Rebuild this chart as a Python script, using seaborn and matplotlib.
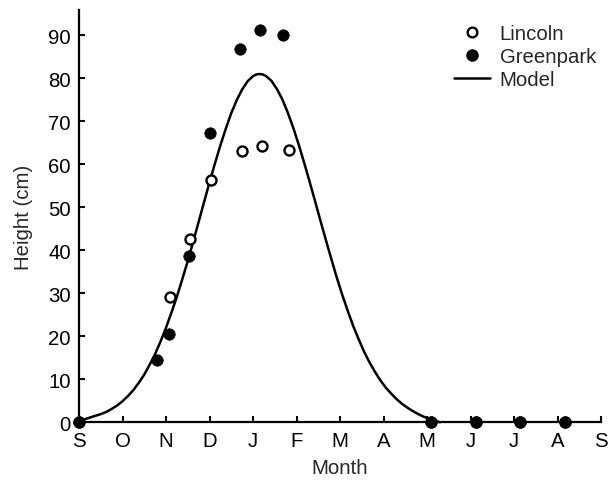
import numpy as np
import pandas as pd
import matplotlib
matplotlib.use("Agg")
import matplotlib.pyplot as plt
from matplotlib.lines import Line2D
import seaborn as sns

sns.set_style("ticks")
plt.rcParams['font.family'] = ['Liberation Sans', 'DejaVu Sans']

# Month tick labels (Sep -> Sep), x measured in months since 1 Sep
month_labels = ["S", "O", "N", "D", "J", "F", "M", "A", "M", "J", "J", "A", "S"]

lincoln_x = [0.0, 2.09, 2.56, 3.03, 3.74, 4.21, 4.82, 8.10, 9.12, 10.13, 11.17]
lincoln_y = [0.0, 29.1, 42.6, 56.3, 63.2, 64.3, 63.4, 0.0, 0.0, 0.0, 0.0]

greenpark_x = [0.0, 1.80, 2.06, 2.53, 3.01, 3.71, 4.17, 4.68, 8.10, 9.12, 10.13, 11.17]
greenpark_y = [0.0, 14.6, 20.5, 38.6, 67.3, 86.8, 91.3, 90.1, 0.0, 0.0, 0.0, 0.0]

model_x = [0.0, 0.125, 0.25, 0.375, 0.5, 0.625, 0.75, 0.875, 1.0, 1.125,
           1.25, 1.375, 1.5, 1.625, 1.75, 1.875, 2.0, 2.125, 2.25, 2.375,
           2.5, 2.625, 2.75, 2.875, 3.0, 3.125, 3.25, 3.375, 3.5, 3.625,
           3.75, 3.875, 4.0, 4.075, 4.15, 4.225, 4.3, 4.425, 4.55, 4.675,
           4.8, 4.925, 5.05, 5.175, 5.3, 5.425, 5.55, 5.675, 5.8, 5.925,
           6.05, 6.175, 6.3, 6.425, 6.55, 6.675, 6.8, 6.925, 7.05, 7.175,
           7.3, 7.425, 7.55, 7.675, 7.8, 7.925, 8.05, 8.175, 8.3]
model_y = [0.0, 0.7, 1.1, 1.5, 1.9, 2.4, 3.1, 3.9, 4.9, 6.1,
           7.5, 9.2, 11.1, 13.4, 15.9, 18.8, 22.0, 25.5, 29.2, 33.3,
           37.5, 42.0, 46.6, 51.2, 55.8, 60.2, 64.4, 68.3, 71.9, 74.9,
           77.4, 79.3, 80.5, 80.9, 81.0, 80.9, 80.5, 79.4, 77.5, 75.1,
           72.0, 68.5, 64.6, 60.4, 56.0, 51.5, 46.9, 42.4, 38.0, 33.7,
           29.7, 26.0, 22.5, 19.4, 16.5, 14.0, 11.8, 9.8, 8.1, 6.7,
           5.4, 4.3, 3.4, 2.6, 1.9, 1.3, 0.8, 0.4, 0.0]

lincoln = pd.DataFrame({"month": lincoln_x, "height": lincoln_y})
greenpark = pd.DataFrame({"month": greenpark_x, "height": greenpark_y})
model = pd.DataFrame({"month": model_x, "height": model_y})

FS = 14.7

fig = plt.figure(figsize=(6.09, 4.81), dpi=100)
ax = fig.add_axes([79 / 609, (481 - 423.3) / 481, 522 / 609, 412.8 / 481])

sns.lineplot(data=model, x="month", y="height", ax=ax, color="black",
             linewidth=1.8, zorder=2, clip_on=False)
sns.scatterplot(data=lincoln, x="month", y="height", ax=ax, marker="o",
                facecolor="white", edgecolor="black", linewidth=1.7, s=52,
                zorder=3, clip_on=False)
sns.scatterplot(data=greenpark, x="month", y="height", ax=ax, marker="o",
                color="black", edgecolor="black", linewidth=0.5, s=68,
                zorder=4, clip_on=False)

ax.set_xlim(0, 12)
ax.set_ylim(0, 96)
ax.set_xticks(range(13))
ax.set_xticklabels(month_labels)
ax.set_yticks(range(0, 100, 10))

for s in ["top", "right"]:
    ax.spines[s].set_visible(False)
for s in ["left", "bottom"]:
    ax.spines[s].set_linewidth(1.6)
    ax.spines[s].set_color("black")

ax.tick_params(direction="in", length=4, width=1.5, labelsize=FS,
               colors="black")
ax.tick_params(axis="y", pad=6)
ax.tick_params(axis="x", pad=6)

ax.set_xlabel("Month", fontsize=FS, labelpad=6)
ax.set_ylabel("Height (cm)", fontsize=FS, labelpad=11)

handles = [
    Line2D([], [], marker="o", linestyle="none", markerfacecolor="white",
           markeredgecolor="black", markeredgewidth=1.7, markersize=7),
    Line2D([], [], marker="o", linestyle="none", color="black", markersize=8),
    Line2D([], [], color="black", linewidth=1.8),
]
ax.legend(handles, ["Lincoln", "Greenpark", "Model"], loc="upper right",
          bbox_to_anchor=(1.018, 1.0), frameon=False, fontsize=FS,
          handlelength=1.75, handletextpad=0.5, labelspacing=0.2,
          borderaxespad=0.3)

fig.savefig("out.png", dpi=100)
